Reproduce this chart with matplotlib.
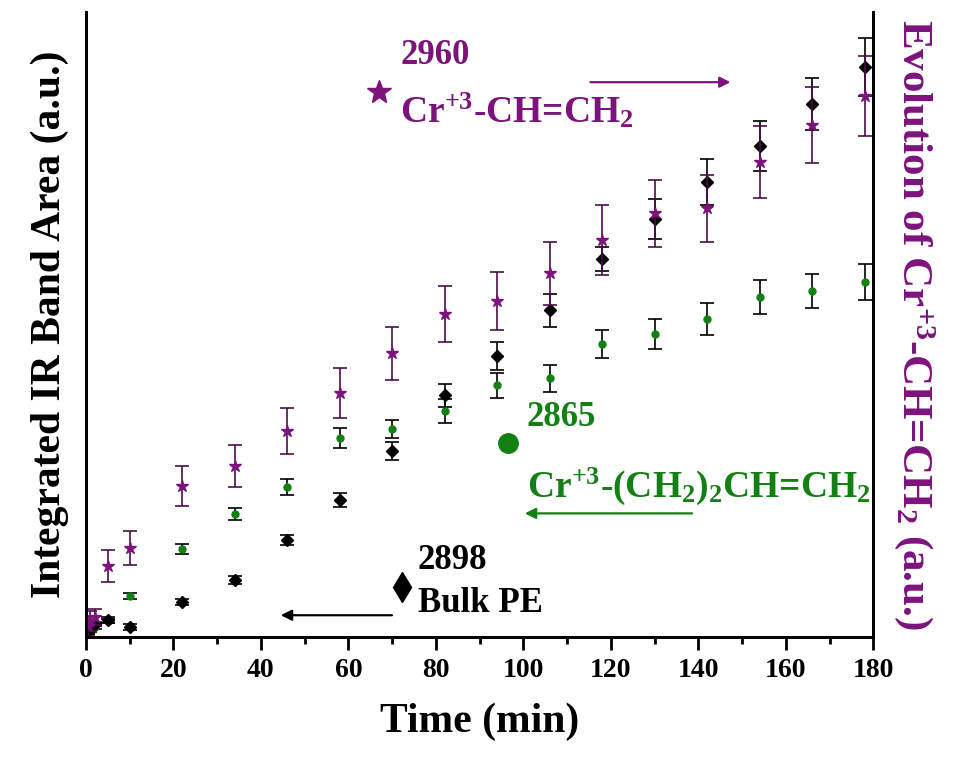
import numpy as np
import matplotlib
matplotlib.use("Agg")
import matplotlib.pyplot as plt

plt.rcParams['font.family'] = 'Liberation Serif'
plt.rcParams['font.weight'] = 'bold'
plt.rcParams['mathtext.fontset'] = 'custom'
plt.rcParams['mathtext.rm'] = 'Liberation Serif:bold'
plt.rcParams['mathtext.it'] = 'Liberation Serif:bold'
plt.rcParams['mathtext.bf'] = 'Liberation Serif:bold'
plt.rcParams['mathtext.default'] = 'rm'

# sampling times (min)
t = [0.5, 1, 2, 5, 10, 22, 34, 46, 58, 70, 82, 94, 106, 118, 130, 142, 154, 166, 178]

# 2898 cm-1, bulk PE
pe = [0.8, 1.3, 2.1, 2.7, 1.6, 5.6, 9.1, 15.5, 21.9, 29.8, 38.7, 45.0, 52.3, 60.5, 66.9, 72.8, 78.6, 85.3, 91.2]
pe_err = [0.3, 0.3, 0.3, 0.5, 0.5, 0.5, 0.6, 0.8, 1.1, 1.4, 1.8, 2.2, 2.6, 1.9, 3.2, 3.7, 4.0, 4.2, 4.6]

# 2865 cm-1, Cr+3-(CH2)2CH=CH2
butenyl = [0.8, 1.1, 1.6, 2.6, 6.6, 14.1, 19.7, 24.0, 31.8, 33.3, 36.2, 40.3, 41.4, 46.9, 48.5, 50.9, 54.4, 55.4, 56.8]
butenyl_err = [0.3, 0.3, 0.3, 0.3, 0.5, 0.8, 0.9, 1.3, 1.6, 1.4, 1.9, 2.0, 2.1, 2.3, 2.4, 2.6, 2.7, 2.7, 2.9]

# 2960 cm-1, Cr+3-CH=CH2 (right axis)
vinyl = [1.8, 2.6, 3.2, 11.4, 14.2, 24.2, 27.4, 33.0, 39.0, 45.4, 51.7, 53.8, 58.2, 63.5, 67.8, 68.6, 76.0, 81.9, 86.6]
vinyl_err = [1.6, 1.6, 1.3, 2.6, 2.7, 3.2, 3.4, 3.7, 4.0, 4.2, 4.5, 4.6, 5.0, 5.6, 5.4, 5.4, 5.8, 6.1, 6.4]

black = 'black'
green = '#128012'
purple = '#7d127d'

fig = plt.figure(figsize=(9.66, 7.63), dpi=100)
ax = fig.add_axes([0.089, 0.165, 0.815, 0.819])
ax2 = ax.twinx()

ax.errorbar(t, butenyl, yerr=butenyl_err, fmt='o', color=green, ms=5,
            ecolor='black', elinewidth=1.2, capsize=5, capthick=1.2)
ax.errorbar(t, pe, yerr=pe_err, fmt='D', color=black, ms=6,
            ecolor='black', elinewidth=1.2, capsize=5, capthick=1.2)
ax2.errorbar(t, vinyl, yerr=vinyl_err, fmt='*', color=purple, ms=9,
             ecolor='#4a0f4a', elinewidth=1.2, capsize=5, capthick=1.2)

for a in (ax, ax2):
    a.set_xlim(0, 180)
    a.set_ylim(0, 100)
    a.set_yticks([])
    for s in a.spines.values():
        s.set_linewidth(2)
ax.spines['top'].set_visible(False)
ax2.spines['top'].set_visible(False)

ax.set_xticks(np.arange(0, 181, 20))
ax.set_xticks(np.arange(10, 180, 20), minor=True)
ax.tick_params(axis='x', which='major', direction='out', length=9, width=2,
               labelsize=20, pad=6)
ax.tick_params(axis='x', which='minor', direction='out', length=5, width=2)

ax.set_xlabel('Time (min)', fontsize=30, fontweight='bold', labelpad=14)
ax.set_ylabel('Integrated IR Band Area (a.u.)', fontsize=30, fontweight='bold', labelpad=12)
ax2.set_ylabel(r'Evolution of Cr$^{+3}$-CH=CH$_2$ (a.u.)', fontsize=31,
               fontweight='bold', color=purple, rotation=270, labelpad=46)

# band labels with their symbols and pointing arrows
arrow = dict(arrowstyle='-|>', lw=1.6, mutation_scale=16)

ax.plot(67, 87.2, marker='*', ms=18, color=purple, clip_on=False)
ax.text(71.8, 93.0, '2960', fontsize=25, color=purple, va='center')
ax.text(71.8, 82.4, r'Cr$^{+3}$-CH=CH$_2$', fontsize=27, color=purple, va='baseline')
ax.annotate('', xy=(148, 88.8), xytext=(114.7, 88.8),
            arrowprops=dict(arrow, color=purple))

ax.plot(96.5, 31.0, marker='o', ms=14, color=green)
ax.text(100.8, 35.2, '2865', fontsize=25, color=green, va='center')
ax.text(100.8, 22.4, r'Cr$^{+3}$-(CH$_2$)$_2$CH=CH$_2$', fontsize=27, color=green, va='baseline')
ax.annotate('', xy=(99.7, 19.8), xytext=(139.2, 19.8),
            arrowprops=dict(arrow, color=green))

ax.plot(72.3, 8.0, marker='d', ms=15, color=black)
ax.text(75.9, 12.2, '2898', fontsize=25, color=black, va='center')
ax.text(75.9, 5.3, 'Bulk PE', fontsize=25, color=black, va='center')
ax.annotate('', xy=(43.9, 3.5), xytext=(70.6, 3.5),
            arrowprops=dict(arrow, color=black))

fig.savefig('out.png', dpi=100)
